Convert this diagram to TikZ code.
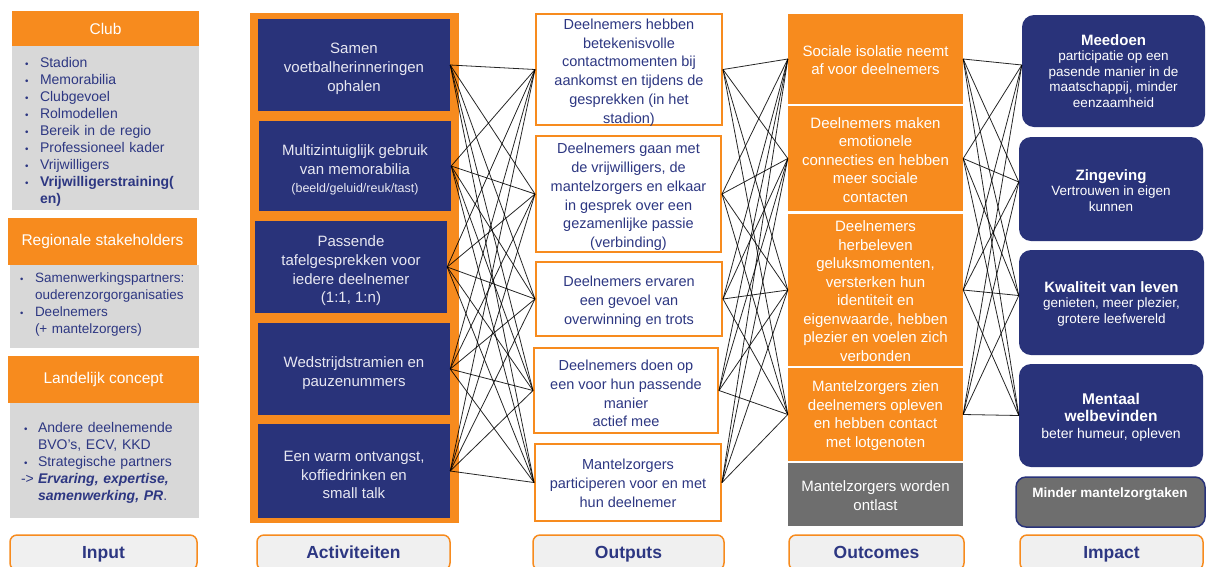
\documentclass[tikz,border=0pt]{standalone}
\usepackage{fontspec}
\setmainfont{Liberation Sans}
\definecolor{orng}{RGB}{247,139,30}
\definecolor{navy}{RGB}{41,51,122}
\definecolor{tnavy}{RGB}{45,55,130}
\definecolor{lgray}{RGB}{216,216,216}
\definecolor{dgray}{RGB}{110,110,110}
\definecolor{lblfill}{RGB}{240,240,240}
\definecolor{paletxt}{RGB}{232,232,242}
\newcommand{\bul}[1][15pt]{\makebox[#1][l]{\scalebox{0.7}{•}}}
% \bx[text shift]{style}{name}{x1}{y1}{x2}{y2}{text}
\newcommand{\bx}[8][0pt]{%
  \pgfmathsetmacro{\bxcx}{(#4+#6)/2}\pgfmathsetmacro{\bxcy}{(#5+#7)/2}%
  \pgfmathsetmacro{\bxw}{#6-#4}\pgfmathsetmacro{\bxh}{#7-#5}%
  \node[#2, minimum width=\bxw pt, minimum height=\bxh pt] (#3) at (\bxcx,\bxcy) {};
  \node[#2, fill=none, draw=none, minimum width=0pt, minimum height=0pt, yshift=#1] (#3t) at (#3.center) {#8};}
\begin{document}
\begin{tikzpicture}[x=1pt,y=-1pt,
  hdr/.style={fill=orng, text=white, font=\fontsize{15.5}{18}\selectfont, inner sep=0pt},
  listbody/.style={fill=lgray, inner sep=0pt},
  listtxt/.style={text=tnavy, align=left, inner sep=0pt},
  act/.style={fill=navy, text=paletxt, font=\fontsize{15}{18.7}\selectfont, align=center, inner sep=0pt},
  outp/.style={draw=orng, line width=2pt, fill=white, text=tnavy, font=\fontsize{14.5}{18.8}\selectfont, align=center, inner sep=0pt},
  outc/.style={fill=orng, text=white, font=\fontsize{15}{18.5}\selectfont, align=center, inner sep=0pt},
  outg/.style={outc, fill=dgray},
  imp/.style={fill=navy, rounded corners=12pt, text=white, font=\fontsize{13.5}{15.5}\selectfont, align=center, inner sep=0pt},
  impg/.style={fill=dgray, draw=navy, line width=1.5pt, rounded corners=10pt, inner sep=0pt},
  lbl/.style={fill=lblfill, draw=orng, line width=1.5pt, rounded corners=7pt, text=tnavy, font=\bfseries\fontsize{17.5}{20}\selectfont, inner sep=0pt},
  link/.style={draw=black, line width=0.8pt, opacity=0.85}
]
\fill[white] (0,0) rectangle (1206,566);
\useasboundingbox (0,0) rectangle (1206,566);

% ---------- Input column ----------
\bx{hdr}{clubh}{12}{11}{199}{46}{Club}
\bx{listbody}{clubb}{12}{46}{199}{210}{}
\node[listtxt, text width=161pt, font=\fontsize{14}{17}\selectfont] (clubl) at ([yshift=-4pt]clubb.center) {%
\bul Stadion\\ \bul Memorabilia\\ \bul Clubgevoel\\ \bul Rolmodellen\\ \bul Bereik in de regio\\ \bul Professioneel kader\\ \bul Vrijwilligers\\ \bul\textbf{Vrijwilligerstraining(}\\ \hspace*{15pt}\textbf{en)}};

\bx{hdr}{regh}{8}{218}{197}{265}{Regionale stakeholders}
\bx{listbody}{regb}{10}{265}{199}{348}{}
\node[listtxt, text width=169pt, font=\fontsize{13.5}{16.7}\selectfont] (regl) at ([yshift=2pt]regb.center) {%
\bul Samenwerkingspartners:\\ \hspace*{15pt}ouderenzorgorganisaties\\ \bul Deelnemers\\ \hspace*{15pt}(+ mantelzorgers)};

\bx{hdr}{landh}{8}{356}{199}{403}{Landelijk concept}
\bx{listbody}{landb}{10}{403}{199}{518}{}
\node[listtxt, text width=167pt, font=\fontsize{14}{17}\selectfont] (landl) at ([yshift=-2pt]landb.center) {%
\hspace*{3pt}\bul[14pt]Andere deelnemende\\ \hspace*{17pt}BVO's, ECV, KKD\\ \hspace*{3pt}\bul[14pt]Strategische partners\\ \makebox[17pt][l]{->}\textbf{\textit{Ervaring, expertise,}}\\ \hspace*{17pt}\textbf{\textit{samenwerking, PR}}.};

% ---------- Activities ----------
\bx{fill=orng, inner sep=0pt}{actframe}{250}{13}{459}{523}{}
\bx[-4pt]{act}{a1}{258}{19}{450}{111}{Samen\\voetbalherinneringen\\ophalen}
\bx[-4pt]{act}{a2}{259}{121}{451}{211}{Multizintuiglijk gebruik\\van memorabilia\\{\fontsize{12.5}{15}\selectfont (beeld/geluid/reuk/tast)}}
\bx[-4pt]{act}{a3}{255}{221}{447}{313}{Passende\\tafelgesprekken voor\\iedere deelnemer\\(1:1, 1:n)}
\bx[-4pt]{act}{a4}{258}{323}{450}{415}{Wedstrijdstramien en\\pauzenummers}
\bx[-4pt]{act}{a5}{258}{424}{450}{518}{Een warm ontvangst,\\koffiedrinken en\\small talk}

% ---------- Outputs ----------
\bx[-3pt]{outp}{o1}{536}{14}{722}{125}{Deelnemers hebben\\betekenisvolle\\contactmomenten bij\\aankomst en tijdens de\\gesprekken (in het\\stadion)}
\bx[-3pt]{outp}{o2}{536}{136}{721}{252}{Deelnemers gaan met\\de vrijwilligers, de\\mantelzorgers en elkaar\\in gesprek over een\\gezamenlijke passie\\(verbinding)}
\bx[-3pt]{outp}{o3}{536}{262}{722}{336}{Deelnemers ervaren\\een gevoel van\\overwinning en trots}
\bx[-3pt]{outp}{o4}{534}{348}{718}{433}{Deelnemers doen op\\een voor hun passende\\manier\\actief mee}
\bx[-1pt]{outp}{o5}{535}{444}{721}{521}{Mantelzorgers\\participeren voor en met\\hun deelnemer}

% ---------- Outcomes ----------
\bx[-1pt]{outc}{c1}{788}{14}{963}{104}{Sociale isolatie neemt\\af voor deelnemers}
\bx[-1.5pt]{outc}{c2}{788}{106}{963}{211}{Deelnemers maken\\emotionele\\connecties en hebben\\meer sociale\\contacten}
\bx[-1pt]{outc}{c3}{788}{214}{963}{366}{Deelnemers\\herbeleven\\geluksmomenten,\\versterken hun\\identiteit en\\eigenwaarde, hebben\\plezier en voelen zich\\verbonden}
\bx[-1pt]{outc}{c4}{788}{368}{963}{461}{Mantelzorgers zien\\deelnemers opleven\\en hebben contact\\met lotgenoten}
\bx[-1pt]{outg}{c5}{788}{463}{963}{526}{Mantelzorgers worden\\ontlast}

% ---------- Impact ----------
\bx{imp}{i1}{1022}{15}{1205}{127}{{\fontsize{15}{17}\selectfont\bfseries Meedoen}\\participatie op een\\pasende manier in de\\maatschappij, minder\\eenzaamheid}
\bx[-1.5pt]{imp}{i2}{1019}{137}{1203}{241}{{\fontsize{15}{17}\selectfont\bfseries Zingeving}\\Vertrouwen in eigen\\kunnen}
\bx[-1pt]{imp}{i3}{1019}{250}{1204}{355}{{\fontsize{15}{17}\selectfont\bfseries Kwaliteit van leven}\\genieten, meer plezier,\\grotere leefwereld}
\bx[-2pt]{imp, font=\fontsize{14}{17}\selectfont}{i4}{1019}{364}{1203}{467}{{\fontsize{15.5}{17}\selectfont\bfseries Mentaal}\\{\fontsize{15.5}{17}\selectfont\bfseries welbevinden}\\beter humeur, opleven}
\bx{impg}{i5}{1016}{477}{1205}{527}{}
\node[text=white, font=\bfseries\fontsize{13.5}{16}\selectfont, inner sep=0pt] (i5t) at (1110,494) {Minder mantelzorgtaken};

% ---------- Bottom labels ----------
\bx[-2pt]{lbl}{linput}{10}{535}{197}{570}{Input}
\bx{lbl}{lact}{257}{535}{450}{570}{Activiteiten}
\bx[-2pt]{lbl}{lout}{533}{535}{724}{570}{Outputs}
\bx{lbl}{loc}{789}{535}{964}{570}{Outcomes}
\bx[-2pt]{lbl}{limp}{1020}{535}{1203}{570}{Impact}

% ---------- Connectors ----------
\foreach \a in {1,...,5}{\foreach \o in {1,...,5}{\draw[link] (a\a.east) -- (o\o.west);}}
\foreach \o in {1,...,5}{\foreach \c in {1,...,4}{\draw[link] (o\o.east) -- (c\c.west);}}
\foreach \c in {1,...,4}{%
  \draw[link] (c\c.east) -- ([yshift=6pt]i1.west);
  \draw[link] (c\c.east) -- ([yshift=7pt]i2.west);
  \draw[link] (c\c.east) -- ([yshift=7pt]i3.west);
  \draw[link] (c\c.east) -- (i4.west);
}
\end{tikzpicture}
\end{document}
